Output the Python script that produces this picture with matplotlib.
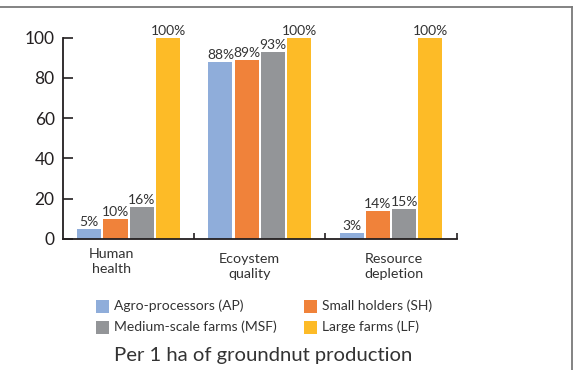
import matplotlib
matplotlib.use("Agg")
import matplotlib.pyplot as plt
import numpy as np
from matplotlib.lines import Line2D
from matplotlib.patches import Rectangle

plt.rcParams['font.family'] = ['Lato', 'DejaVu Sans']

categories = ["Human\nhealth", "Ecoystem\nquality", "Resource\ndepletion"]
series_names = ["Agro-processors (AP)", "Small holders (SH)",
                "Medium-scale farms (MSF)", "Large farms (LF)"]
ap_values = [5, 88, 3]
sh_values = [10, 89, 14]
msf_values = [16, 93, 15]
lf_values = [100, 100, 100]
y_ticks = [0, 20, 40, 60, 80, 100]
title_text = "Per 1 ha of groundnut production"

colors = ["#8FADDA", "#F0823A", "#939598", "#FDBB27"]
ink = "#231F20"
text_col = "#333333"

fig = plt.figure(figsize=(5.79, 3.70), dpi=100)
W, H = 579, 370
ax = fig.add_axes([63 / W, (H - 238.7) / H, (456.7 - 63) / W, (238.7 - 37.7) / H])

x = np.arange(len(categories))
pitch = 0.2
width = 0.183
all_values = [ap_values, sh_values, msf_values, lf_values]
for i, (vals, col, name) in enumerate(zip(all_values, colors, series_names)):
    offs = (i - 1.5) * pitch
    ax.bar(x + offs, vals, width=width, color=col, label=name, zorder=2)
    for xi, v in zip(x + offs, vals):
        ax.text(xi, v + 0.5, f"{v}%", ha="center", va="bottom",
                fontsize=10, color=text_col, clip_on=False)

ax.set_xlim(-0.5, 2.5)
ax.set_ylim(0, 100)
ax.set_yticks(y_ticks)
ax.set_yticklabels([str(t) for t in y_ticks], fontsize=12.5, color=ink)
ax.tick_params(axis="y", direction="in", length=7, width=1.2, color=ink, pad=6)

ax.set_xticks([0.5, 1.5, 2.5])
ax.set_xticklabels([])
ax.tick_params(axis="x", direction="in", length=4, width=1.2, color=ink)
label_dx = [-0.13, -0.08, 0.02]
label_dy = [-4.5, -7.0, -7.0]
for xi, lab, dx, dy in zip(x, categories, label_dx, label_dy):
    ax.text(xi + dx, dy, lab, ha="center", va="top", fontsize=10.3,
            color=text_col, linespacing=1.35)

for s in ["top", "right"]:
    ax.spines[s].set_visible(False)
for s in ["left", "bottom"]:
    ax.spines[s].set_linewidth(1.3)
    ax.spines[s].set_color(ink)

# legend drawn as swatches and labels in two columns
col_x = [96, 304]
row_y = [306, 327]
for k in range(len(series_names)):
    cx = col_x[k % 2]
    cy = row_y[k // 2]
    fig.add_artist(Rectangle((cx / W, (H - cy - 6.5) / H), 13 / W, 13 / H,
                             transform=fig.transFigure, color=colors[k], lw=0))
    fig.text((cx + 18) / W, (H - cy) / H, series_names[k], fontsize=10,
             color=text_col, ha="left", va="center")

fig.text(114 / W, (H - 355) / H, title_text, fontsize=14.6, color=text_col,
         ha="left", va="center")

# frame lines along top and right edges
fig.add_artist(Line2D([0, 572 / W], [(H - 7) / H, (H - 7) / H],
                      transform=fig.transFigure, color="#7a7a7a", lw=1.3))
fig.add_artist(Line2D([572 / W, 572 / W], [(H - 7) / H, 0],
                      transform=fig.transFigure, color="#7a7a7a", lw=1.3))

fig.savefig("out.png", dpi=100, facecolor="white")
